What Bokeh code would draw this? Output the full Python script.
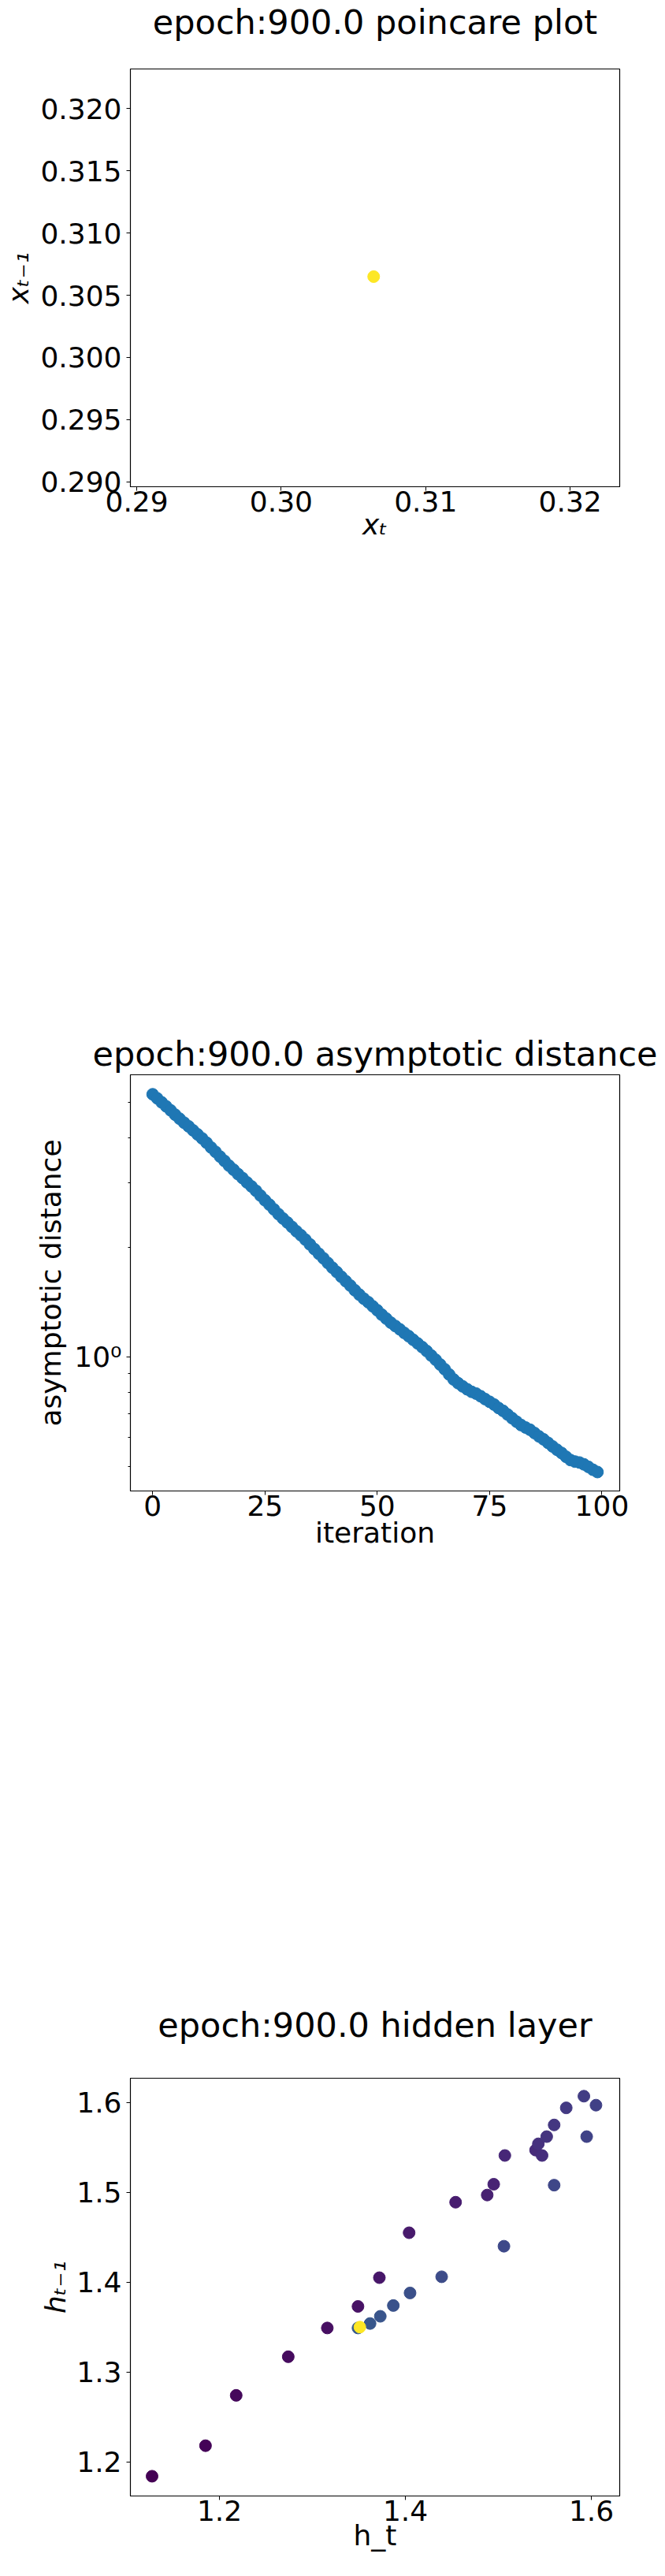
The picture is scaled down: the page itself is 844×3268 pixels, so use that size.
#Three stacked scatter panels: poincare plot, asymptotic distance, hidden layer

from bokeh.plotting import figure
from bokeh.layouts import column
from bokeh.models import Range1d, FixedTicker, ColumnDataSource, Title
from bokeh.palettes import Viridis256
from bokeh.transform import linear_cmap
from bokeh.embed import file_html
from bokeh.resources import INLINE

FONT = "DejaVu Sans"

#Poincare plot data

x_t = [0.3064]
x_prev = [0.3065]
poincare_xticks = [0.29, 0.30, 0.31, 0.32]
poincare_xlabels = ["0.29", "0.30", "0.31", "0.32"]
poincare_yticks = [0.290, 0.295, 0.300, 0.305, 0.310, 0.315, 0.320]
poincare_ylabels = ["0.290", "0.295", "0.300", "0.305", "0.310", "0.315", "0.320"]

#Asymptotic distance data

iteration = list(range(100))
distance = [5.260, 5.129, 5.000, 4.875, 4.753, 4.624, 4.508, 4.395, 4.295, 4.188,
            4.083, 3.981, 3.873, 3.758, 3.656, 3.548, 3.451, 3.350, 3.266, 3.177,
            3.097, 3.013, 2.938, 2.858, 2.773, 2.692, 2.618, 2.541, 2.466, 2.399,
            2.339, 2.275, 2.213, 2.158, 2.099, 2.037, 1.977, 1.919, 1.866, 1.811,
            1.758, 1.710, 1.660, 1.614, 1.570, 1.524, 1.483, 1.445, 1.413, 1.377,
            1.343, 1.306, 1.274, 1.242, 1.216, 1.191, 1.164, 1.140, 1.114, 1.089,
            1.064, 1.038, 1.009, 0.982, 0.953, 0.925, 0.895, 0.867, 0.847, 0.830,
            0.815, 0.802, 0.793, 0.780, 0.766, 0.753, 0.740, 0.724, 0.711, 0.695,
            0.679, 0.664, 0.650, 0.640, 0.631, 0.618, 0.605, 0.594, 0.581, 0.568,
            0.556, 0.545, 0.532, 0.521, 0.516, 0.513, 0.507, 0.499, 0.490, 0.483]
dist_xticks = [0, 25, 50, 75, 100]
dist_major = [1.0]
dist_minor = [0.5, 0.6, 0.7, 0.8, 0.9, 2.0, 3.0, 4.0, 5.0]

#Hidden layer data

h_t = [1.1275, 1.185, 1.218, 1.274, 1.316, 1.349, 1.372, 1.404, 1.454, 1.488,
       1.495, 1.507, 1.540, 1.547, 1.543, 1.552, 1.560, 1.573, 1.592, 1.605,
       1.595, 1.560, 1.506, 1.439, 1.405, 1.387, 1.373, 1.362, 1.349, 1.351]
h_prev = [1.184, 1.218, 1.274, 1.317, 1.349, 1.373, 1.405, 1.455, 1.489, 1.497,
          1.509, 1.541, 1.547, 1.541, 1.554, 1.562, 1.575, 1.594, 1.607, 1.597,
          1.562, 1.508, 1.440, 1.406, 1.388, 1.374, 1.362, 1.354, 1.349, 1.350]
step = [0, 1, 2, 3, 4, 5, 6, 7, 8, 9,
        10, 11, 12, 13, 14, 15, 16, 17, 18, 19,
        20, 21, 22, 23, 24, 25, 26, 27, 28, 99]
hidden_xticks = [1.2, 1.4, 1.6]
hidden_yticks = [1.2, 1.3, 1.4, 1.5, 1.6]


def style(p, title_standoff, xlabel_standoff, ylabel_standoff):
    p.title.text_font = FONT
    p.title.text_font_size = "43px"
    p.title.text_font_style = "normal"
    p.title.text_color = "black"
    p.title.align = "center"
    p.title.standoff = title_standoff
    p.outline_line_color = "black"
    p.outline_line_alpha = 1
    p.outline_line_width = 1.2
    p.xgrid.visible = False
    p.ygrid.visible = False
    for ax in (p.xaxis, p.yaxis):
        ax.major_label_text_font = FONT
        ax.major_label_text_font_size = "36px"
        ax.major_label_text_color = "black"
        ax.axis_label_text_font = FONT
        ax.axis_label_text_font_size = "36px"
        ax.axis_label_text_color = "black"
        ax.axis_label_text_font_style = "normal"
        ax.axis_line_color = "black"
        ax.major_tick_line_color = "black"
        ax.minor_tick_line_color = "black"
        ax.major_tick_out = 5
        ax.major_tick_in = 0
        ax.minor_tick_out = 0
        ax.minor_tick_in = 0
    p.xaxis.major_label_standoff = 0
    p.yaxis.major_label_standoff = 6
    p.xaxis.axis_label_standoff = xlabel_standoff
    p.yaxis.axis_label_standoff = ylabel_standoff


#Poincare figure

p1 = figure(frame_width=621, frame_height=530,
            min_border_left=155, min_border_right=52, min_border_top=87, min_border_bottom=375,
            x_range=Range1d(0.28956, 0.32343), y_range=Range1d(0.2896, 0.3232),
            title="epoch:900.0 poincare plot",
            output_backend="svg", toolbar_location=None, tools="")
p1.scatter(x_t, x_prev, size=15, fill_color="#fde725", line_color="#fde725")
style(p1, 0, -7, 4)
#empty gap between the title and the frame
p1.add_layout(Title(text=" ", text_font_size="1px", standoff=32), "above")
p1.xaxis.ticker = FixedTicker(ticks=poincare_xticks)
p1.xaxis.major_label_overrides = dict(zip(poincare_xticks, poincare_xlabels))
p1.yaxis.ticker = FixedTicker(ticks=poincare_yticks)
p1.yaxis.major_label_overrides = dict(zip(poincare_yticks, poincare_ylabels))
p1.xaxis.axis_label = "xₜ"
p1.yaxis.axis_label = "xₜ₋₁"
p1.xaxis.axis_label_text_font_style = "italic"
p1.yaxis.axis_label_text_font_style = "italic"

#Asymptotic distance figure

p2 = figure(frame_width=621, frame_height=528,
            min_border_left=155, min_border_right=58, min_border_top=371, min_border_bottom=401,
            x_range=Range1d(-4.95, 103.95), y_range=Range1d(0.4285, 5.95),
            y_axis_type="log",
            title="epoch:900.0 asymptotic distance",
            output_backend="svg", toolbar_location=None, tools="")
p2.scatter(iteration, distance, size=15, fill_color="#1f77b4", line_color="#1f77b4")
style(p2, 4, -2, 6)
p2.xaxis.ticker = FixedTicker(ticks=dist_xticks)
p2.yaxis.ticker = FixedTicker(ticks=dist_major, minor_ticks=dist_minor)
p2.yaxis.major_label_overrides = {1: "10⁰"}
p2.yaxis.minor_tick_out = 3
p2.xaxis.axis_label = "iteration"
p2.yaxis.axis_label = "asymptotic distance"

#Hidden layer figure

source = ColumnDataSource(dict(h_t=h_t, h_prev=h_prev, step=step))

p3 = figure(frame_width=621, frame_height=530,
            min_border_left=155, min_border_right=52, min_border_top=344, min_border_bottom=80,
            x_range=Range1d(1.1042, 1.6305), y_range=Range1d(1.162, 1.627),
            title="epoch:900.0 hidden layer",
            output_backend="svg", toolbar_location=None, tools="")
cmap = linear_cmap("step", Viridis256, 0, 99)
p3.scatter("h_t", "h_prev", source=source, size=15, fill_color=cmap, line_color=cmap)
style(p3, 86, -5, 3)
p3.xaxis.ticker = FixedTicker(ticks=hidden_xticks)
p3.yaxis.ticker = FixedTicker(ticks=hidden_yticks)
p3.xaxis.axis_label = "h_t"
p3.yaxis.axis_label = "hₜ₋₁"
p3.yaxis.axis_label_text_font_style = "italic"

#Output the page

layout = column(p1, p2, p3)
open("out.html", "w").write(file_html(layout, INLINE))
